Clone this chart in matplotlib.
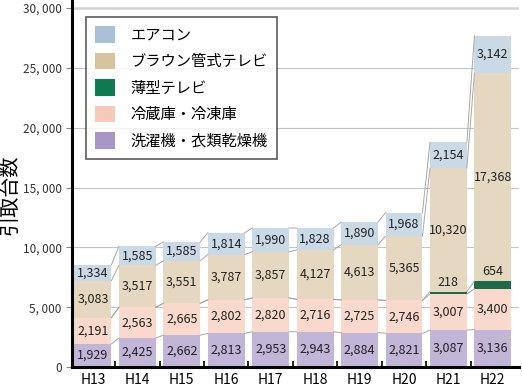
import numpy as np
import matplotlib
matplotlib.use("Agg")
import matplotlib.pyplot as plt
from matplotlib.patches import Patch

plt.rcParams['font.family'] = ['Noto Sans CJK JP', 'DejaVu Sans']

years = ['H13', 'H14', 'H15', 'H16', 'H17', 'H18', 'H19', 'H20', 'H21', 'H22']
washer = [1929, 2425, 2662, 2813, 2953, 2943, 2884, 2821, 3087, 3136]
fridge = [2191, 2563, 2665, 2802, 2820, 2716, 2725, 2746, 3007, 3400]
flat_tv = [0, 0, 0, 0, 0, 0, 0, 0, 218, 654]
crt_tv = [3083, 3517, 3551, 3787, 3857, 4127, 4613, 5365, 10320, 17368]
aircon = [1334, 1585, 1585, 1814, 1990, 1828, 1890, 1968, 2154, 3142]

names = ['洗濯機・衣類乾燥機', '冷蔵庫・冷凍庫', '薄型テレビ', 'ブラウン管式テレビ', 'エアコン']
series = [washer, fridge, flat_tv, crt_tv, aircon]
bar_colors = ['#c2b6d8', '#f9d9cb', '#1f6b48', '#e6d8c0', '#c9dae6']
leg_colors = ['#a697c6', '#f7c9b8', '#0e7a52', '#d8c3a0', '#aac0d4']

fig = plt.figure(figsize=(5.22, 3.88), dpi=100)
ax = fig.add_axes([0.138, 0.054, 0.856, 0.946])

x = np.arange(len(years))
w = 0.83
bottom = np.zeros(len(years))
for vals, c in zip(series, bar_colors):
    vals = np.array(vals, dtype=float)
    ax.bar(x, vals, w, bottom=bottom, color=c, edgecolor='none', zorder=2)
    top = bottom + vals
    # series lines between bars
    for i in range(len(years) - 1):
        ax.plot([x[i] + w / 2, x[i + 1] - w / 2], [top[i], top[i + 1]],
                color='#a8a8a8', lw=0.7, zorder=3)
    for i in range(len(years)):
        if vals[i] == 0:
            continue
        if vals[i] < 1000:
            ax.text(x[i], top[i] + 250, f'{int(vals[i]):,}', ha='center', va='bottom',
                    fontsize=9, color='#222222', zorder=4)
        else:
            ax.text(x[i], bottom[i] + vals[i] / 2, f'{int(vals[i]):,}', ha='center',
                    va='center', fontsize=9, color='#222222', zorder=4)
    bottom = top

ax.set_xlim(-0.47, 9.585)
ax.set_ylim(0, 30670)
ax.set_yticks(np.arange(0, 30001, 5000))
ax.set_yticklabels([f'{v:,}'.replace(',', ', ') for v in range(0, 30001, 5000)],
                   fontsize=8.5, color='#333333')
for v in range(5000, 30001, 5000):
    if v == 30000:
        ax.axhline(v, color='#d4d4d4', lw=1.8, zorder=1)
    else:
        ax.axhline(v, color='#c4c4c4', lw=0.8, zorder=1)

ax.set_xticks(x)
ax.set_xticklabels(years, fontsize=10)
ax.tick_params(axis='x', length=0, pad=4)
ax.set_xticks(x[:-1] + 0.5, minor=True)
ax.tick_params(axis='x', which='minor', direction='in', length=4, width=1.2)
ax.tick_params(axis='y', length=4, width=0.8, color='#888888')

for s in ['top', 'right']:
    ax.spines[s].set_visible(False)
ax.spines['left'].set_linewidth(2.2)
ax.spines['bottom'].set_linewidth(2.2)

ax.set_ylabel('引取台数', fontsize=14.5)
ax.yaxis.set_label_coords(-0.116, 0.47)

handles = [Patch(facecolor=c, edgecolor='none') for c in leg_colors[::-1]]
leg = ax.legend(handles, names[::-1], loc='upper left', bbox_to_anchor=(0.014, 0.975),
                fontsize=11, frameon=True, fancybox=False, edgecolor='#333333',
                handlelength=1.3, handleheight=1.3, labelspacing=0.6,
                handletextpad=1.0, borderpad=0.6)
leg.get_frame().set_linewidth(1.2)

fig.savefig('out.png', dpi=100)
